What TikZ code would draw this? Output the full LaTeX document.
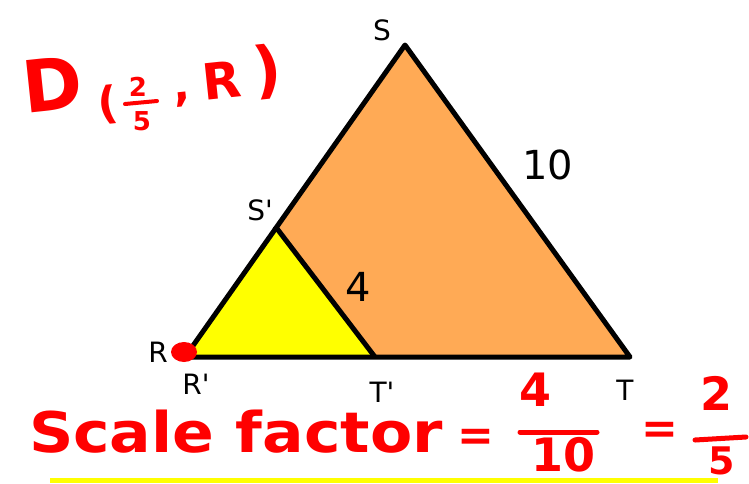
\documentclass[tikz,border=0pt]{standalone}
\usepackage{fontspec}
\setmainfont{DejaVu Sans}
\definecolor{bigfill}{RGB}{255,170,85}
\definecolor{smallfill}{RGB}{255,255,0}
\definecolor{pen}{RGB}{255,0,0}
\begin{document}
\begin{tikzpicture}[
    x=1pt, y=-1pt,
    tri/.style={draw=black, line width=5pt, line join=round},
    lbl/.style={font=\fontsize{28}{30}\selectfont, inner sep=0pt},
    hand/.style={text=pen, inner sep=0pt},
]
\useasboundingbox (0,0) rectangle (749,483);

% Triangles
\coordinate (R) at (185,357);
\coordinate (S) at (405,45);
\coordinate (T) at (630,357);
\coordinate (Sp) at (275,226);
\coordinate (Tp) at (375,357);
\fill[bigfill] (R) -- (S) -- (T) -- cycle;
\fill[smallfill] (R) -- (Sp) -- (Tp) -- cycle;
\draw[tri] (R) -- (S) -- (T) -- cycle;
\draw[tri] (Sp) -- (Tp);

% Center point
\fill[pen] (184,352) ellipse (13pt and 10pt);

% Vertex labels
\node[lbl] (lS) at (382,30) {S};
\node[lbl] (lSp) at (260,210) {S\textquotesingle};
\node[lbl] (lR) at (158,352) {R};
\node[lbl] (lRp) at (196,384) {R\textquotesingle};
\node[lbl] (lTp) at (382,392) {T\textquotesingle};
\node[lbl] (lT) at (625,390) {T};
\node[lbl, font=\fontsize{40}{42}\selectfont] (ten) at (548,165) {10};
\node[lbl, font=\fontsize{40}{42}\selectfont] (four) at (358,287) {4};

% Dilation
\node[hand, rotate=6, font=\bfseries\fontsize{72}{74}\selectfont] (dil) at (52,84) {D};
\node[hand, rotate=6, font=\bfseries\fontsize{44}{46}\selectfont] (lpar) at (108,105) {(};
\node[hand, font=\bfseries\fontsize{26}{26}\selectfont] (dnum) at (138,87) {2};
\node[hand, font=\bfseries\fontsize{26}{26}\selectfont] (dden) at (142,121) {5};
\draw[pen, line width=4pt, line cap=round] (125,104) -- (157,101);
\node[hand, rotate=6, font=\bfseries\fontsize{44}{46}\selectfont] (comma) at (183,100) {,};
\node[hand, rotate=6, font=\bfseries\fontsize{50}{52}\selectfont] (cR) at (222,80) {R};
\node[hand, rotate=6, font=\bfseries\fontsize{62}{64}\selectfont] (rpar) at (268,72) {)};

% Scale factor
\node[hand, xscale=1.1, font=\bfseries\fontsize{56}{58}\selectfont] (sf) at (236,432) {Scale factor};
\node[hand, font=\bfseries\fontsize{44}{46}\selectfont] (eq1) at (476,440) {=};
\node[hand, font=\bfseries\fontsize{46}{48}\selectfont] (num1) at (535,390) {4};
\node[hand, font=\bfseries\fontsize{46}{48}\selectfont] (den1) at (563,455) {10};
\draw[pen, line width=5pt, line cap=round] (520,432) -- (597,432);
\node[hand, font=\bfseries\fontsize{44}{46}\selectfont] (eq2) at (660,433) {=};
\node[hand, font=\bfseries\fontsize{46}{48}\selectfont] (num2) at (716,393) {2};
\node[hand, font=\bfseries\fontsize{38}{40}\selectfont] (den2) at (722,461) {5};
\draw[pen, line width=5pt, line cap=round] (695,440) -- (746,437);

% Underline
\fill[smallfill] (50,478) rectangle (718,483);
\end{tikzpicture}
\end{document}
